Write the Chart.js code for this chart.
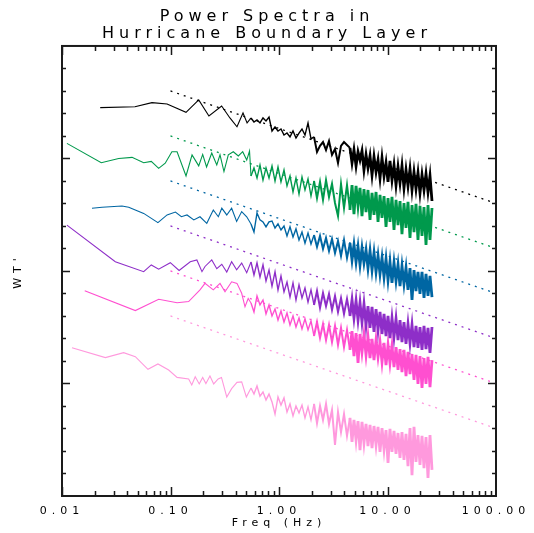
<!DOCTYPE html>
<html>
<head>
<meta charset="utf-8">
<script src="https://cdn.jsdelivr.net/npm/chart.js@4.4.1/dist/chart.umd.min.js"></script>
<style>
  html, body { margin: 0; padding: 0; background: #fff; }
  canvas { display: block; }
</style>
</head>
<body>
<canvas id="spectra" width="534" height="533"></canvas>
<script>
// axis labels
const titleLines = ['Power Spectra in', 'Hurricane Boundary Layer'];
const xTickValues = [0.01, 0.1, 1, 10, 100];
const xTickLabels = ['0.01', '0.10', '1.00', '10.00', '100.00'];

// frequency grid (Hz) shared by the resolved part of every spectrum
const midFreq = [0.552, 0.588, 0.627, 0.668, 0.712, 0.759, 0.809, 0.862, 0.919, 0.979, 1.043,
  1.112, 1.185, 1.263, 1.346, 1.434, 1.529, 1.629, 1.736, 1.851, 1.972, 2.102, 2.240, 2.388,
  2.544, 2.712, 2.890, 3.080, 3.282, 3.498, 3.728, 3.973, 4.234];
const hiFreq = [4.51, 4.71, 4.91, 5.13, 5.35, 5.58, 5.82, 6.07, 6.34, 6.61, 6.90, 7.20, 7.51,
  7.84, 8.18, 8.53, 8.90, 9.29, 9.69, 10.11, 10.54, 11.00, 11.48, 11.98, 12.50, 13.04, 13.60,
  14.19, 14.81, 15.45, 16.12, 16.82, 17.55, 18.31, 19.10, 19.93, 20.80, 21.70, 22.64, 23.62,
  24.64, 25.71];

// low frequency end of each spectrum (own frequencies)
const blackLowF = [0.0225, 0.047, 0.0675, 0.093, 0.139, 0.182, 0.226, 0.296, 0.353, 0.41, 0.466, 0.508];
const blackLowV = [17.26, 17.3, 17.48, 17.42, 17.05, 17.6, 16.89, 17.33, 16.8, 16.41, 17.02, 16.58];
const greenLowF = [0.0111, 0.023, 0.0333, 0.0442, 0.0566, 0.0665, 0.0778, 0.0894, 0.103, 0.115,
  0.139, 0.158, 0.182, 0.198, 0.215, 0.240, 0.267, 0.286, 0.311, 0.341, 0.379, 0.422, 0.463, 0.504, 0.535];
const greenLowV = [15.67, 14.81, 15.0, 15.05, 14.81, 14.87, 14.56, 14.79, 15.3, 15.3,
  14.22, 15.16, 14.67, 15.18, 14.62, 15.24, 14.71, 15.16, 14.42, 15.16, 15.3, 15.11, 15.3, 14.93, 15.33];
const blueLowF = [0.0189, 0.0234, 0.0357, 0.0412, 0.0566, 0.0766, 0.093, 0.111, 0.126, 0.142,
  0.164, 0.187, 0.216, 0.248, 0.276, 0.297, 0.330, 0.366, 0.407, 0.453, 0.504];
const blueLowV = [12.79, 12.83, 12.89, 12.83, 12.56, 12.15, 12.49, 12.62, 12.41, 12.49,
  12.27, 12.41, 12.12, 12.71, 12.41, 12.79, 12.49, 12.79, 12.2, 12.64, 12.41];
const purpleLowF = [0.0111, 0.031, 0.0566, 0.0665, 0.0778, 0.0996, 0.12, 0.152, 0.175, 0.195,
  0.208, 0.240, 0.267, 0.297, 0.330, 0.366, 0.407, 0.453, 0.504];
const purpleLowV = [12.04, 10.41, 9.97, 10.27, 10.08, 10.37, 10.02, 10.41, 10.49, 9.97,
  10.2, 10.49, 10.1, 10.3, 9.95, 10.41, 10.05, 10.35, 9.92];
const magentaLowF = [0.0162, 0.0474, 0.0778, 0.115, 0.147, 0.187, 0.208, 0.248, 0.286, 0.318,
  0.366, 0.41, 0.453, 0.486, 0.52];
const magentaLowV = [9.12, 8.24, 8.74, 8.59, 8.64, 9.16, 9.45, 9.16, 9.45, 9.08,
  9.52, 9.45, 9.01, 8.41, 8.78];
const pinkLowF = [0.01236, 0.0251, 0.037, 0.0474, 0.062, 0.0766, 0.0962, 0.115, 0.147, 0.157,
  0.169, 0.184, 0.198, 0.212, 0.231, 0.25, 0.275, 0.295, 0.33, 0.366, 0.41, 0.453, 0.5];
const pinkLowV = [6.59, 6.15, 6.37, 6.19, 5.63, 5.87, 5.6, 5.27, 5.2, 4.93,
  5.3, 4.98, 5.27, 5.0, 5.33, 4.98, 5.2, 5.27, 4.4, 4.77, 5.05, 5.07, 4.4];

// log power (offset per run) on the shared grid: midFreq then hiFreq
const blackVals = [16.8, 16.62, 16.71, 16.58, 16.8, 16.67, 16.84, 16.22, 16.4, 16.22, 16.31, 16.04,
  16.13, 15.96, 16.22, 15.91, 16.13, 16.31, 16.04, 16.58, 15.87, 15.96, 15.29, 15.56, 15.73, 15.38,
  15.78, 15.16, 15.42, 14.8, 15.56, 15.73, 15.6,
  15.47, 14.8, 15.38, 14.67, 15.29, 14.93, 15.33, 14.49, 15.16, 14.58, 15.11, 14.27, 15.07, 14.4,
  14.93, 14.13, 15.02, 14.22, 14.8, 13.96, 14.89, 14.04, 14.71, 13.82, 14.62, 13.91, 14.67, 13.69,
  14.49, 13.78, 14.53, 13.6, 14.4, 13.65, 14.36, 13.47, 14.27, 13.6, 14.31, 13.51, 14.22, 13.11];
const greenVals = [14.22, 14.58, 14.13, 14.71, 14.04, 14.58, 14.13, 14.67, 14.0, 14.62, 13.96, 14.49,
  13.78, 14.22, 13.51, 14.13, 13.42, 14.18, 13.6, 14.09, 13.33, 14.0, 13.24, 13.96, 13.16, 14.04,
  13.29, 13.87, 13.02, 12.44, 13.87, 12.8, 13.82,
  12.71, 13.82, 12.53, 13.78, 12.89, 13.69, 12.44, 13.64, 12.62, 13.6, 12.27, 13.47, 12.49, 13.51,
  12.18, 13.38, 12.36, 13.33, 11.96, 13.24, 12.18, 13.29, 11.82, 13.16, 12.04, 13.11, 11.64, 13.02,
  11.91, 13.07, 11.47, 12.93, 11.73, 12.98, 11.38, 12.89, 11.56, 12.84, 11.16, 12.93, 11.38, 12.8];
const blueVals = [12.09, 11.73, 12.58, 12.27, 12.18, 11.96, 12.18, 12.22, 11.91, 12.09, 11.82, 12.0,
  11.56, 11.96, 11.51, 11.87, 11.38, 11.73, 11.24, 11.69, 11.2, 11.6, 11.07, 11.56, 10.98, 11.47,
  10.89, 11.42, 10.8, 11.33, 10.67, 11.38, 10.58,
  11.24, 10.49, 11.16, 10.4, 11.07, 10.27, 11.02, 10.36, 10.93, 10.13, 10.89, 10.04, 10.8, 9.96,
  10.67, 9.87, 10.58, 9.73, 10.53, 9.6, 10.4, 9.47, 10.36, 9.56, 10.27, 9.33, 10.22, 9.42,
  10.13, 9.16, 10.13, 8.71, 10.04, 9.11, 9.96, 8.98, 9.96, 8.8, 9.87, 8.89, 9.78, 8.84];
const purpleVals = [10.4, 9.82, 10.36, 9.73, 10.27, 9.56, 10.04, 9.33, 9.96, 9.16, 9.78, 9.07,
  9.51, 8.84, 9.47, 8.71, 9.38, 8.8, 9.24, 8.62, 9.16, 8.49, 9.11, 8.36, 9.02, 8.44,
  8.98, 8.27, 8.89, 8.18, 8.8, 8.09, 8.76,
  8.0, 8.71, 7.91, 8.67, 7.82, 8.58, 7.73, 8.53, 7.6, 8.44, 7.47, 8.4, 7.29, 8.31,
  7.38, 8.18, 7.2, 8.09, 7.11, 8.0, 7.02, 7.91, 7.07, 7.87, 6.93, 7.82, 6.84, 7.73,
  6.76, 7.64, 6.8, 7.6, 6.62, 7.56, 6.58, 7.51, 6.49, 7.56, 6.53, 7.47, 6.36, 7.51];
const magentaVals = [8.58, 8.18, 8.89, 8.49, 8.71, 8.09, 8.49, 8.0, 8.31, 7.82, 8.22, 7.73,
  8.13, 7.6, 8.0, 7.51, 7.91, 7.42, 7.87, 7.38, 7.78, 7.11, 7.73, 7.02, 7.64, 6.93,
  7.6, 6.84, 7.56, 6.71, 7.47, 6.62, 7.38,
  6.49, 7.33, 6.22, 7.24, 5.91, 7.2, 6.4, 7.16, 6.27, 7.07, 6.13, 6.98, 6.04, 6.93,
  6.18, 6.84, 5.96, 6.8, 5.82, 6.71, 5.91, 6.67, 5.73, 6.62, 5.6, 6.53, 5.51, 6.49,
  5.33, 6.4, 5.42, 6.31, 5.16, 6.27, 4.98, 6.22, 4.8, 6.13, 4.98, 6.18, 4.84, 6.04];
const pinkVals = [4.8, 4.53, 4.89, 4.44, 4.62, 4.27, 4.53, 4.18, 3.64, 4.4, 4.04, 4.36,
  3.73, 4.09, 3.56, 4.0, 3.69, 4.04, 3.47, 3.96, 3.38, 4.09, 3.24, 4.0, 3.38, 4.09,
  3.2, 3.82, 2.27, 3.73, 2.84, 3.64, 2.67,
  3.47, 2.4, 3.38, 2.49, 3.33, 2.04, 3.29, 2.36, 3.2, 2.22, 3.16, 2.13, 3.11, 2.27,
  3.07, 1.96, 3.02, 2.09, 2.93, 1.47, 2.98, 1.96, 2.89, 1.87, 2.8, 1.69, 2.84, 1.6,
  2.76, 1.33, 3.02, 0.93, 3.07, 1.51, 2.71, 1.38, 2.67, 1.24, 2.62, 0.8, 2.71, 1.16];

// -5/3 reference lines, value at 0.1 Hz and at 100 Hz
const refFreq = [0.1, 100];
const blackRef = [18.0, 13.0];
const greenRef = [16.0, 11.0];
const blueRef = [14.0, 9.0];
const purpleRef = [12.0, 7.0];
const magentaRef = [10.0, 5.0];
const pinkRef = [8.0, 3.0];

const colors = ['#000000', '#00994c', '#0066a3', '#8e2ec8', '#ff4fd0', '#ff99dd'];

const gridFreq = midFreq.concat(hiFreq);

function toPoints(fs, vs) {
    return fs.map((f, i) => ({ x: f, y: vs[i] }));
}

// thicker pen where the spectrum gets dense
function segWidth(ctx) {
    const f = ctx.p0.parsed.x;
    if (f >= hiFreq[0]) return 2.8;
    if (f >= 2) return 2.0;
    if (f >= midFreq[0]) return 1.4;
    return 1.1;
}

const runs = [
    [blackLowF, blackLowV, blackVals, blackRef],
    [greenLowF, greenLowV, greenVals, greenRef],
    [blueLowF, blueLowV, blueVals, blueRef],
    [purpleLowF, purpleLowV, purpleVals, purpleRef],
    [magentaLowF, magentaLowV, magentaVals, magentaRef],
    [pinkLowF, pinkLowV, pinkVals, pinkRef]
];

const datasets = [];
runs.forEach((r, i) => {
    datasets.push({
        data: toPoints(refFreq, r[3]),
        borderColor: colors[i],
        borderWidth: 1.3,
        borderDash: [2, 5],
        pointRadius: 0
    });
    datasets.push({
        data: toPoints(r[0].concat(gridFreq), r[1].concat(r[2])),
        borderColor: colors[i],
        borderWidth: 1.1,
        segment: { borderWidth: segWidth },
        pointRadius: 0
    });
});

const axisFont = { family: 'DejaVu Sans', size: 11 };

// box round the plot with inward ticks on all four sides
const frameTicks = {
    id: 'frameTicks',
    beforeUpdate(chart) { chart.ctx.letterSpacing = '5px'; },
    beforeDraw(chart) { chart.ctx.letterSpacing = '5px'; },
    afterDraw(chart) {
        const { ctx, chartArea: a, scales: { x, y } } = chart;
        ctx.save();
        ctx.strokeStyle = '#1a1a1a';
        ctx.lineWidth = 1.5;
        ctx.beginPath();
        [0.01, 0.1, 1, 10].forEach(d => {
            [1, 2, 3, 4, 5, 6, 7, 8, 9].forEach(m => {
                const px = Math.round(x.getPixelForValue(d * m)) + 0.5;
                const len = m === 1 ? 9 : 5;
                ctx.moveTo(px, a.bottom); ctx.lineTo(px, a.bottom - len);
                ctx.moveTo(px, a.top); ctx.lineTo(px, a.top + len);
            });
        });
        for (let v = 1; v < 20; v++) {
            const py = Math.round(y.getPixelForValue(v)) + 0.5;
            const len = v % 5 === 0 ? 8 : 4;
            ctx.moveTo(a.left, py); ctx.lineTo(a.left + len, py);
            ctx.moveTo(a.right, py); ctx.lineTo(a.right - len, py);
        }
        ctx.stroke();
        ctx.lineWidth = 2;
        ctx.strokeRect(a.left, a.top, a.right - a.left, a.bottom - a.top);
        ctx.restore();
    }
};

new Chart(document.getElementById('spectra'), {
    type: 'line',
    data: { datasets: datasets },
    options: {
        responsive: false,
        animation: false,
        layout: { padding: 0 },
        scales: {
            x: {
                type: 'logarithmic',
                min: 0.01,
                max: 100,
                grid: { display: false, drawTicks: false },
                border: { display: false },
                afterBuildTicks: (scale) => { scale.ticks = xTickValues.map(v => ({ value: v })); },
                ticks: {
                    autoSkip: false,
                    maxRotation: 0,
                    padding: 3,
                    color: '#000',
                    // tall line box pushes the labels down without widening the side padding
                    font: { family: 'DejaVu Sans', size: 11, lineHeight: '25px' },
                    callback: (v, i) => xTickLabels[i]
                },
                title: {
                    display: true,
                    text: 'Freq (Hz)',
                    color: '#000',
                    font: axisFont,
                    padding: { top: 0, bottom: 3 }
                },
                afterFit: (scale) => { scale.height = 37; }
            },
            y: {
                type: 'linear',
                min: 0,
                max: 20,
                grid: { display: false, drawTicks: false },
                border: { display: false },
                ticks: { display: false },
                title: {
                    display: true,
                    text: "WT'",
                    color: '#000',
                    font: axisFont,
                    padding: { top: 12, bottom: 0 }
                },
                afterFit: (scale) => { scale.width = 62; }
            },
            // empty right-hand strip so the frame ends where the original does
            yRight: {
                type: 'linear',
                position: 'right',
                grid: { display: false, drawTicks: false },
                border: { display: false },
                ticks: { display: false },
                afterFit: (scale) => { scale.width = 38; }
            }
        },
        plugins: {
            legend: { display: false },
            tooltip: { enabled: false },
            title: {
                display: true,
                text: titleLines,
                color: '#000',
                font: { family: 'DejaVu Sans', size: 16, weight: 'normal', lineHeight: 1.08 },
                padding: { top: 8, bottom: 3.4 }
            }
        }
    },
    plugins: [frameTicks]
});
</script>
</body>
</html>
